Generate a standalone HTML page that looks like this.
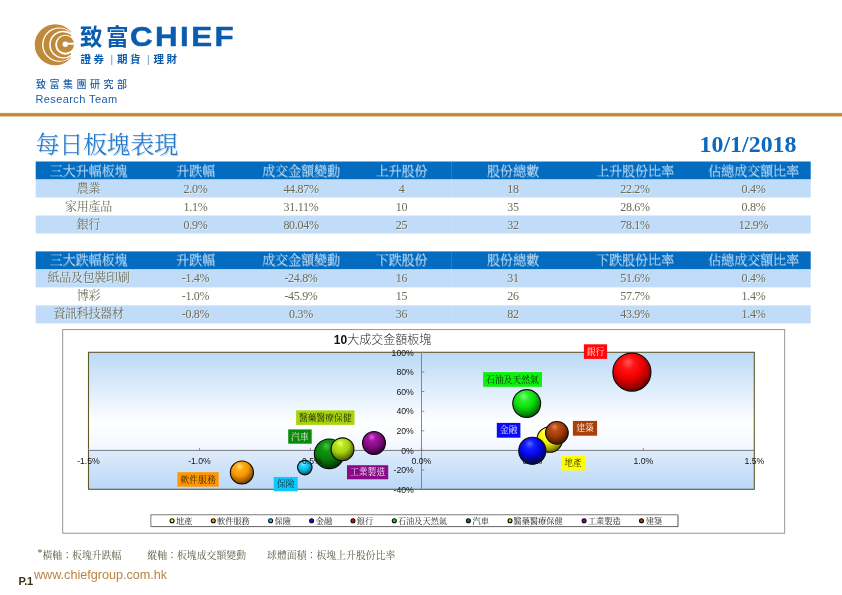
<!DOCTYPE html>
<html lang="zh-Hant"><head><meta charset="utf-8"><title>每日板塊表現</title>
<style>
html,body{margin:0;padding:0;background:#fff;}
body{width:842px;height:595px;position:relative;overflow:hidden;font-family:"Liberation Sans","Noto Sans CJK TC","Noto Sans CJK SC",sans-serif;}
.abs{position:absolute;white-space:nowrap;}
.logo{position:absolute;left:30px;top:20px;}
.brand-cjk{left:80.2px;top:21.6px;font:700 22.2px/32px "Liberation Sans","Noto Sans CJK TC","Noto Sans CJK SC",sans-serif;color:#0b5cae;letter-spacing:3.2px;transform-origin:0 50%;transform:scaleX(1.02);}
.brand-en{left:129.9px;top:20.1px;font:700 27px/34px "Liberation Sans",sans-serif;color:#0b5cae;letter-spacing:2.1px;transform-origin:0 50%;transform:scaleX(1.16);-webkit-text-stroke:0.45px #0b5cae;}
.brand-sub{left:80.4px;top:50.5px;font:700 10.5px/17px "Liberation Sans","Noto Sans CJK TC","Noto Sans CJK SC",sans-serif;color:#0b5cae;letter-spacing:2.7px;}
.brand-sub i{font-style:normal;font-weight:400;color:#5a8cc4;margin:0 1.2px 0 3.6px;font-size:10px;}
.dept{left:36px;top:76.5px;font:500 10px/16px "Liberation Sans","Noto Sans CJK TC","Noto Sans CJK SC",sans-serif;color:#1d5ea8;letter-spacing:3.5px;}
.team{left:35.4px;top:91.2px;font:400 11px/16px "Liberation Sans",sans-serif;color:#1d5ea8;letter-spacing:0.42px;}
.rule{position:absolute;left:0;top:112.6px;width:842px;height:3.6px;background:linear-gradient(to bottom,#d9b070 0%,#bd8436 35%,#bd8436 65%,#dcb880 100%);}
.title{left:35.5px;top:129px;font:300 24px/32px "Liberation Serif","Noto Serif CJK SC","Noto Serif CJK TC",serif;color:#2477c8;text-shadow:1px 0.9px 0 #b9d5f1;letter-spacing:-0.3px;}
.date{left:699.6px;top:130.2px;font:700 23.9px/28px "Liberation Serif",serif;color:#0a68be;}
.trow{position:absolute;left:35.7px;width:775.0px;height:18px;}
.trow .c{position:absolute;top:0;width:120px;height:18px;line-height:18.6px;text-align:center;white-space:nowrap;}
.th{color:#c6e0f7;font:200 13px/18px "Liberation Serif","Noto Serif CJK SC","Noto Serif CJK TC",serif;text-shadow:0.6px 0.6px 0 rgba(255,255,255,0.5);}
.tr{color:#6c6c54;font:400 12px/18px "Liberation Serif","Noto Serif CJK SC","Noto Serif CJK TC",serif;letter-spacing:-0.3px;text-shadow:0.8px 0.8px 0 rgba(255,255,255,0.5);}
.tr .c{line-height:19.5px;}
.chart{position:absolute;left:0;top:0;}
.ax{font:8.7px "Liberation Sans",sans-serif;fill:#141414;}
.ttl{font:300 12px "Liberation Sans","Noto Sans CJK TC","Noto Sans CJK SC",sans-serif;fill:#2a2a2a;}
.ttlb{font-weight:700;font-family:"Liberation Sans",sans-serif;fill:#111;}
.lb{font:300 8.8px "Liberation Serif","Noto Serif CJK SC","Noto Serif CJK TC",serif;}
.lg{font:8.2px "Liberation Serif","Noto Serif CJK SC","Noto Serif CJK TC",serif;fill:#222;}
.note{top:548px;font:400 9.9px/15px "Liberation Serif","Noto Serif CJK SC","Noto Serif CJK TC",serif;color:#5a5a44;}
.pno{left:18.6px;top:574px;font:700 11px/14px "Liberation Sans",sans-serif;color:#3a3218;letter-spacing:-0.3px;}
.url{left:34px;top:567px;font:400 12.6px/16px "Liberation Sans",sans-serif;color:#b98442;letter-spacing:0;}
</style></head>
<body>
<svg class="logo" width="50" height="50" viewBox="30 20 50 50">
<defs><clipPath id="lc"><rect x="30" y="20" width="40.9" height="50"/></clipPath></defs>
<g clip-path="url(#lc)">
<circle cx="55.2" cy="44.7" r="20.5" fill="#c08a3c"/>
<circle cx="59.2" cy="44.7" r="17.15" fill="#fff"/>
<circle cx="59.6" cy="44.7" r="16.15" fill="#c08a3c"/>
<circle cx="63.1" cy="44.7" r="13.9" fill="#fff"/>
<circle cx="63.2" cy="44.7" r="12.5" fill="#c08a3c"/>
<circle cx="65.2" cy="44.7" r="10" fill="#fff"/>
</g>
<circle cx="65.5" cy="44.3" r="8.5" fill="#c08a3c"/>
<circle cx="65.3" cy="44.2" r="2.7" fill="#fff"/>
<rect x="65.3" y="42.7" width="10" height="2" fill="#fff"/>
</svg>
<div class="abs brand-cjk">致富</div>
<div class="abs brand-en">CHIEF</div>
<div class="abs brand-sub">證券<i>|</i>期貨<i>|</i>理財</div>
<div class="abs dept">致富集團研究部</div>
<div class="abs team">Research Team</div>
<div class="abs title">每日板塊表現</div>
<div class="abs date">10/1/2018</div>
<svg class="chart" width="842" height="595" viewBox="0 0 842 595">
<defs>
<linearGradient id="rg" x1="0" y1="0" x2="0" y2="1"><stop offset="0" stop-color="#f0dfc4"/><stop offset="0.22" stop-color="#c8964e"/><stop offset="0.45" stop-color="#bd8432"/><stop offset="0.7" stop-color="#c08838"/><stop offset="0.88" stop-color="#dcbc8c"/><stop offset="1" stop-color="#f6ecdc"/></linearGradient>
<linearGradient id="pg" x1="0" y1="0" x2="0" y2="1"><stop offset="0" stop-color="#bad9f7"/><stop offset="0.72" stop-color="#ffffff"/><stop offset="1" stop-color="#f1f6fe"/></linearGradient>
<linearGradient id="pg2" x1="0" y1="0" x2="0" y2="1"><stop offset="0" stop-color="#e0ebfb"/><stop offset="1" stop-color="#b9d8f7"/></linearGradient>
<radialGradient id="g_red" cx="0.42" cy="0.35" r="0.71" fx="0.40" fy="0.23"><stop offset="0" stop-color="#ff5a5a"/><stop offset="0.24" stop-color="#ff1414"/><stop offset="0.52" stop-color="#f00000"/><stop offset="0.79" stop-color="#a00000"/><stop offset="1" stop-color="#4a0000"/></radialGradient>
<radialGradient id="g_green" cx="0.42" cy="0.35" r="0.71" fx="0.40" fy="0.23"><stop offset="0" stop-color="#7aff7a"/><stop offset="0.24" stop-color="#28f028"/><stop offset="0.52" stop-color="#0cdc0c"/><stop offset="0.79" stop-color="#068a06"/><stop offset="1" stop-color="#003c00"/></radialGradient>
<radialGradient id="g_yellow" cx="0.42" cy="0.35" r="0.71" fx="0.40" fy="0.23"><stop offset="0" stop-color="#ffffa0"/><stop offset="0.24" stop-color="#ffff30"/><stop offset="0.52" stop-color="#f0ec00"/><stop offset="0.79" stop-color="#9a9600"/><stop offset="1" stop-color="#4a4800"/></radialGradient>
<radialGradient id="g_brown" cx="0.42" cy="0.35" r="0.71" fx="0.40" fy="0.23"><stop offset="0" stop-color="#e08858"/><stop offset="0.24" stop-color="#b84c14"/><stop offset="0.52" stop-color="#a03c0a"/><stop offset="0.79" stop-color="#642204"/><stop offset="1" stop-color="#2a0e00"/></radialGradient>
<radialGradient id="g_blue" cx="0.42" cy="0.35" r="0.71" fx="0.40" fy="0.23"><stop offset="0" stop-color="#5a6aff"/><stop offset="0.24" stop-color="#1420ff"/><stop offset="0.52" stop-color="#0408e8"/><stop offset="0.79" stop-color="#02048c"/><stop offset="1" stop-color="#00003c"/></radialGradient>
<radialGradient id="g_orange" cx="0.42" cy="0.35" r="0.71" fx="0.40" fy="0.23"><stop offset="0" stop-color="#ffe870"/><stop offset="0.24" stop-color="#ffac14"/><stop offset="0.52" stop-color="#f89400"/><stop offset="0.79" stop-color="#a05c00"/><stop offset="1" stop-color="#4a2a00"/></radialGradient>
<radialGradient id="g_cyan" cx="0.42" cy="0.35" r="0.71" fx="0.40" fy="0.23"><stop offset="0" stop-color="#a0f4ff"/><stop offset="0.24" stop-color="#28d4ff"/><stop offset="0.52" stop-color="#0cbcf0"/><stop offset="0.79" stop-color="#067896"/><stop offset="1" stop-color="#00303c"/></radialGradient>
<radialGradient id="g_dgreen" cx="0.42" cy="0.35" r="0.71" fx="0.40" fy="0.23"><stop offset="0" stop-color="#4cc04c"/><stop offset="0.24" stop-color="#109410"/><stop offset="0.52" stop-color="#0a800a"/><stop offset="0.79" stop-color="#045004"/><stop offset="1" stop-color="#002000"/></radialGradient>
<radialGradient id="g_ygreen" cx="0.42" cy="0.35" r="0.71" fx="0.40" fy="0.23"><stop offset="0" stop-color="#ecff70"/><stop offset="0.24" stop-color="#bce81c"/><stop offset="0.52" stop-color="#a4d010"/><stop offset="0.79" stop-color="#64800a"/><stop offset="1" stop-color="#2c3a00"/></radialGradient>
<radialGradient id="g_purple" cx="0.42" cy="0.35" r="0.71" fx="0.40" fy="0.23"><stop offset="0" stop-color="#e060e0"/><stop offset="0.24" stop-color="#a014a0"/><stop offset="0.52" stop-color="#880a88"/><stop offset="0.79" stop-color="#500450"/><stop offset="1" stop-color="#200020"/></radialGradient>
</defs>
<rect x="0" y="112.6" width="842" height="4.3" fill="url(#rg)"/>
<rect x="35.7" y="161.5" width="775.0" height="18" fill="#046cc0"/>
<rect x="35.7" y="179.5" width="775.0" height="18" fill="#c0dcf8"/>
<rect x="35.7" y="215.5" width="775.0" height="18" fill="#c0dcf8"/>
<rect x="35.7" y="251.4" width="775.0" height="18" fill="#046cc0"/>
<rect x="35.7" y="269.4" width="775.0" height="18" fill="#c0dcf8"/>
<rect x="35.7" y="305.4" width="775.0" height="18" fill="#c0dcf8"/>
<rect x="451.1" y="161.5" width="0.6" height="72" fill="#fff" opacity="0.22"/>
<rect x="451.1" y="251.4" width="0.6" height="72" fill="#fff" opacity="0.22"/>
<rect x="62.7" y="329.6" width="722" height="203.6" fill="#fff" stroke="#8a8a8a" stroke-width="0.9"/>
<rect x="88.5" y="352.3" width="665.8" height="98.1" fill="url(#pg)"/>
<rect x="88.5" y="450.4" width="665.8" height="38.9" fill="url(#pg2)"/>
<rect x="88.5" y="352.3" width="665.8" height="137.0" fill="none" stroke="#5f5a2a" stroke-width="1.1"/>
<line x1="88.5" y1="450.4" x2="754.3" y2="450.4" stroke="#767c86" stroke-width="1"/>
<line x1="421.5" y1="352.3" x2="421.5" y2="489.3" stroke="#7a7a7a" stroke-width="0.9"/>
<line x1="421.5" y1="352.3" x2="424.3" y2="352.3" stroke="#7a7a7a" stroke-width="0.8"/>
<line x1="421.5" y1="371.9" x2="424.3" y2="371.9" stroke="#7a7a7a" stroke-width="0.8"/>
<line x1="421.5" y1="391.5" x2="424.3" y2="391.5" stroke="#7a7a7a" stroke-width="0.8"/>
<line x1="421.5" y1="411.2" x2="424.3" y2="411.2" stroke="#7a7a7a" stroke-width="0.8"/>
<line x1="421.5" y1="430.8" x2="424.3" y2="430.8" stroke="#7a7a7a" stroke-width="0.8"/>
<line x1="421.5" y1="450.4" x2="424.3" y2="450.4" stroke="#7a7a7a" stroke-width="0.8"/>
<line x1="421.5" y1="470.0" x2="424.3" y2="470.0" stroke="#7a7a7a" stroke-width="0.8"/>
<line x1="421.5" y1="489.6" x2="424.3" y2="489.6" stroke="#7a7a7a" stroke-width="0.8"/>
<line x1="88.5" y1="450.4" x2="88.5" y2="447.9" stroke="#7a7a7a" stroke-width="0.8"/>
<line x1="199.5" y1="450.4" x2="199.5" y2="447.9" stroke="#7a7a7a" stroke-width="0.8"/>
<line x1="310.4" y1="450.4" x2="310.4" y2="447.9" stroke="#7a7a7a" stroke-width="0.8"/>
<line x1="421.4" y1="450.4" x2="421.4" y2="447.9" stroke="#7a7a7a" stroke-width="0.8"/>
<line x1="532.4" y1="450.4" x2="532.4" y2="447.9" stroke="#7a7a7a" stroke-width="0.8"/>
<line x1="643.3" y1="450.4" x2="643.3" y2="447.9" stroke="#7a7a7a" stroke-width="0.8"/>
<line x1="754.3" y1="450.4" x2="754.3" y2="447.9" stroke="#7a7a7a" stroke-width="0.8"/>
<text x="333.8" y="343.8" class="ttl"><tspan class="ttlb">10</tspan>大成交金額板塊</text>
<circle cx="631.9" cy="372.2" r="19.05" fill="url(#g_red)" stroke="#0a0a0a" stroke-width="1.1"/>
<circle cx="526.7" cy="403.6" r="13.95" fill="url(#g_green)" stroke="#0a0a0a" stroke-width="1.1"/>
<circle cx="549.8" cy="439.5" r="12.75" fill="url(#g_yellow)" stroke="#0a0a0a" stroke-width="1.1"/>
<circle cx="556.9" cy="432.8" r="11.35" fill="url(#g_brown)" stroke="#0a0a0a" stroke-width="1.1"/>
<circle cx="532.3" cy="450.8" r="13.55" fill="url(#g_blue)" stroke="#0a0a0a" stroke-width="1.1"/>
<circle cx="241.9" cy="472.5" r="11.55" fill="url(#g_orange)" stroke="#0a0a0a" stroke-width="1.1"/>
<circle cx="304.8" cy="467.6" r="7.25" fill="url(#g_cyan)" stroke="#0a0a0a" stroke-width="1.1"/>
<circle cx="329.2" cy="453.8" r="14.85" fill="url(#g_dgreen)" stroke="#0a0a0a" stroke-width="1.1"/>
<circle cx="342.5" cy="449.3" r="11.45" fill="url(#g_ygreen)" stroke="#0a0a0a" stroke-width="1.1"/>
<circle cx="374.0" cy="443.1" r="11.45" fill="url(#g_purple)" stroke="#0a0a0a" stroke-width="1.1"/>
<text class="ax" x="413.8" y="355.5" text-anchor="end">100%</text>
<text class="ax" x="413.8" y="375.1" text-anchor="end">80%</text>
<text class="ax" x="413.8" y="394.7" text-anchor="end">60%</text>
<text class="ax" x="413.8" y="414.4" text-anchor="end">40%</text>
<text class="ax" x="413.8" y="434.0" text-anchor="end">20%</text>
<text class="ax" x="413.8" y="453.6" text-anchor="end">0%</text>
<text class="ax" x="413.8" y="473.2" text-anchor="end">-20%</text>
<text class="ax" x="413.8" y="492.8" text-anchor="end">-40%</text>
<text class="ax" x="88.5" y="463.8" text-anchor="middle">-1.5%</text>
<text class="ax" x="199.5" y="463.8" text-anchor="middle">-1.0%</text>
<text class="ax" x="310.4" y="463.8" text-anchor="middle">-0.5%</text>
<text class="ax" x="421.4" y="463.8" text-anchor="middle">0.0%</text>
<text class="ax" x="532.4" y="463.8" text-anchor="middle">0.5%</text>
<text class="ax" x="643.3" y="463.8" text-anchor="middle">1.0%</text>
<text class="ax" x="754.3" y="463.8" text-anchor="middle">1.5%</text>
<rect x="583.9" y="344.3" width="23.2" height="14.6" fill="#ff0a0a"/>
<text class="lb" x="595.5" y="354.7" text-anchor="middle" fill="#fff">銀行</text>
<rect x="483.1" y="372.1" width="58.9" height="14.7" fill="#0cf00c"/>
<text class="lb" x="512.5" y="382.6" text-anchor="middle" fill="#050505">石油及天然氣</text>
<rect x="496.8" y="422.9" width="23.6" height="14.8" fill="#0a0af4"/>
<text class="lb" x="508.6" y="433.4" text-anchor="middle" fill="#fff">金融</text>
<rect x="572.9" y="420.9" width="24.2" height="14.8" fill="#a8400c"/>
<text class="lb" x="585.0" y="431.4" text-anchor="middle" fill="#fff">建築</text>
<rect x="561.2" y="455.8" width="23.8" height="14.7" fill="#ffff00"/>
<text class="lb" x="573.1" y="466.2" text-anchor="middle" fill="#050505">地產</text>
<rect x="296.1" y="410.4" width="58.4" height="14.5" fill="#a8d40c"/>
<text class="lb" x="325.3" y="420.8" text-anchor="middle" fill="#0a0a05">醫藥醫療保健</text>
<rect x="288.2" y="429.4" width="23.5" height="14.3" fill="#0a8a0a"/>
<text class="lb" x="299.9" y="439.6" text-anchor="middle" fill="#fff">汽車</text>
<rect x="347" y="465.2" width="41.2" height="14.1" fill="#8a0a8a"/>
<text class="lb" x="367.6" y="475.4" text-anchor="middle" fill="#fff">工業製造</text>
<rect x="177.4" y="472.2" width="41.3" height="14.5" fill="#ff9600"/>
<text class="lb" x="198.1" y="482.6" text-anchor="middle" fill="#14100a">軟件服務</text>
<rect x="273.7" y="477" width="24.0" height="14.3" fill="#0cc8fc"/>
<text class="lb" x="285.7" y="487.2" text-anchor="middle" fill="#0a1a2a">保險</text>
<rect x="151.6" y="515.6" width="527" height="11.6" fill="#b0b0b0"/>
<rect x="150.9" y="514.8" width="527" height="11.6" fill="#fff" stroke="#5a5a5a" stroke-width="0.8"/>
<circle cx="172.1" cy="520.7" r="2.0" fill="#f4f000" stroke="#0a0a0a" stroke-width="1.1"/>
<text class="lg" x="176.1" y="523.7">地產</text>
<circle cx="213.3" cy="520.7" r="2.0" fill="#ff9800" stroke="#0a0a0a" stroke-width="1.1"/>
<text class="lg" x="217" y="523.7">軟件服務</text>
<circle cx="270.6" cy="520.7" r="2.0" fill="#10c8f8" stroke="#0a0a0a" stroke-width="1.1"/>
<text class="lg" x="274.6" y="523.7">保險</text>
<circle cx="311.6" cy="520.7" r="2.0" fill="#0a10f0" stroke="#0a0a0a" stroke-width="1.1"/>
<text class="lg" x="315.8" y="523.7">金融</text>
<circle cx="353" cy="520.7" r="2.0" fill="#f00000" stroke="#0a0a0a" stroke-width="1.1"/>
<text class="lg" x="356.8" y="523.7">銀行</text>
<circle cx="394.3" cy="520.7" r="2.0" fill="#10e010" stroke="#0a0a0a" stroke-width="1.1"/>
<text class="lg" x="397.9" y="523.7">石油及天然氣</text>
<circle cx="468.4" cy="520.7" r="2.0" fill="#0a8a0a" stroke="#0a0a0a" stroke-width="1.1"/>
<text class="lg" x="472.5" y="523.7">汽車</text>
<circle cx="510" cy="520.7" r="2.0" fill="#a8d810" stroke="#0a0a0a" stroke-width="1.1"/>
<text class="lg" x="513.6" y="523.7">醫藥醫療保健</text>
<circle cx="584.1" cy="520.7" r="2.0" fill="#8a0a8a" stroke="#0a0a0a" stroke-width="1.1"/>
<text class="lg" x="587.9" y="523.7">工業製造</text>
<circle cx="641.5" cy="520.7" r="2.0" fill="#a84010" stroke="#0a0a0a" stroke-width="1.1"/>
<text class="lg" x="645.7" y="523.7">建築</text>
</svg>
<div class="trow th" style="top:161.5px">
<span class="c" style="left:-7.2px">三大升幅板塊</span>
<span class="c" style="left:99.8px">升跌幅</span>
<span class="c" style="left:205.3px">成交金額變動</span>
<span class="c" style="left:305.8px">上升股份</span>
<span class="c" style="left:417.3px">股份總數</span>
<span class="c" style="left:539.3px">上升股份比率</span>
<span class="c" style="left:657.8px">佔總成交額比率</span>
</div>
<div class="trow tr alt" style="top:179.5px">
<span class="c" style="left:-7.2px">農業</span>
<span class="c" style="left:99.8px">2.0%</span>
<span class="c" style="left:205.3px">44.87%</span>
<span class="c" style="left:305.8px">4</span>
<span class="c" style="left:417.3px">18</span>
<span class="c" style="left:539.3px">22.2%</span>
<span class="c" style="left:657.8px">0.4%</span>
</div>
<div class="trow tr" style="top:197.5px">
<span class="c" style="left:-7.2px">家用產品</span>
<span class="c" style="left:99.8px">1.1%</span>
<span class="c" style="left:205.3px">31.11%</span>
<span class="c" style="left:305.8px">10</span>
<span class="c" style="left:417.3px">35</span>
<span class="c" style="left:539.3px">28.6%</span>
<span class="c" style="left:657.8px">0.8%</span>
</div>
<div class="trow tr alt" style="top:215.5px">
<span class="c" style="left:-7.2px">銀行</span>
<span class="c" style="left:99.8px">0.9%</span>
<span class="c" style="left:205.3px">80.04%</span>
<span class="c" style="left:305.8px">25</span>
<span class="c" style="left:417.3px">32</span>
<span class="c" style="left:539.3px">78.1%</span>
<span class="c" style="left:657.8px">12.9%</span>
</div>
<div class="trow th" style="top:251.4px">
<span class="c" style="left:-7.2px">三大跌幅板塊</span>
<span class="c" style="left:99.8px">升跌幅</span>
<span class="c" style="left:205.3px">成交金額變動</span>
<span class="c" style="left:305.8px">下跌股份</span>
<span class="c" style="left:417.3px">股份總數</span>
<span class="c" style="left:539.3px">下跌股份比率</span>
<span class="c" style="left:657.8px">佔總成交額比率</span>
</div>
<div class="trow tr alt" style="top:269.4px">
<span class="c" style="left:-7.2px">紙品及包裝印刷</span>
<span class="c" style="left:99.8px">-1.4%</span>
<span class="c" style="left:205.3px">-24.8%</span>
<span class="c" style="left:305.8px">16</span>
<span class="c" style="left:417.3px">31</span>
<span class="c" style="left:539.3px">51.6%</span>
<span class="c" style="left:657.8px">0.4%</span>
</div>
<div class="trow tr" style="top:287.4px">
<span class="c" style="left:-7.2px">博彩</span>
<span class="c" style="left:99.8px">-1.0%</span>
<span class="c" style="left:205.3px">-45.9%</span>
<span class="c" style="left:305.8px">15</span>
<span class="c" style="left:417.3px">26</span>
<span class="c" style="left:539.3px">57.7%</span>
<span class="c" style="left:657.8px">1.4%</span>
</div>
<div class="trow tr alt" style="top:305.4px">
<span class="c" style="left:-7.2px">資訊科技器材</span>
<span class="c" style="left:99.8px">-0.8%</span>
<span class="c" style="left:205.3px">0.3%</span>
<span class="c" style="left:305.8px">36</span>
<span class="c" style="left:417.3px">82</span>
<span class="c" style="left:539.3px">43.9%</span>
<span class="c" style="left:657.8px">1.4%</span>
</div>
<div class="abs note" style="left:37.5px"><span style="position:relative;top:-2.6px">*</span>橫軸：板塊升跌幅</div>
<div class="abs note" style="left:147.3px">縱軸：板塊成交額變動</div>
<div class="abs note" style="left:267px">球體面積：板塊上升股份比率</div>
<div class="abs pno">P.1</div>
<div class="abs url">www.chiefgroup.com.hk</div>
</body></html>
